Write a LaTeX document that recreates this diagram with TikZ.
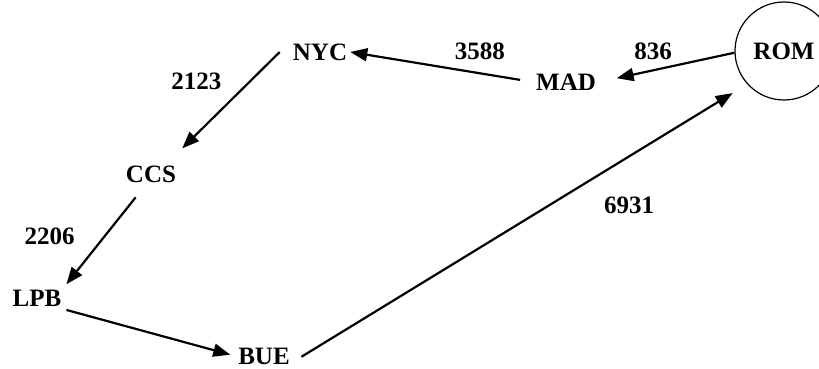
\documentclass[tikz,border=0pt]{standalone}
\usepackage{fontspec}
\setmainfont{Liberation Serif}
\usetikzlibrary{arrows.meta}
\tikzset{
  city/.style={inner sep=3pt, font=\fontsize{25}{30}\selectfont\bfseries},
  hub/.style={draw, circle, line width=1.2pt, minimum size=98pt, inner sep=0pt, font=\fontsize{25}{30}\selectfont\bfseries},
  dist/.style={inner sep=3pt, font=\fontsize{25}{30}\selectfont\bfseries},
  arrow/.style={-{Triangle[length=17pt, width=13pt]}, line width=2.2pt}
}
\begin{document}
\begin{tikzpicture}[x=1pt, y=-1pt]
  \useasboundingbox (0,0) rectangle (819,369);
  \node[hub] (rom) at (784,51) {ROM};
  \node[city] (mad) at (566,82) {MAD};
  \node[city] (nyc) at (320,52) {NYC};
  \node[city] (ccs) at (151,174) {CCS};
  \node[city] (lpb) at (37,298) {LPB};
  \node[city] (bue) at (264,356) {BUE};

  \draw[arrow, shorten >=18pt] (rom.182) -- node[dist, pos=0.6, above=6pt] {836} (mad.east);
  \draw[arrow, shorten <=13pt] (mad.west) -- node[dist, pos=0.29, above=9pt] {3588} (nyc.east);
  \draw[arrow, shorten >=20pt] ([xshift=-10pt]nyc.west) -- node[dist, pos=0.27, left=24pt] {2123} ([xshift=17pt]ccs.north);
  \draw[arrow, shorten <=15pt, shorten >=3pt] ([xshift=-6pt]ccs.south) -- node[dist, midway, left=26pt] {2206} (lpb.north east);
  \draw[arrow, shorten <=2pt, shorten >=5pt] (lpb.south east) -- (bue.west);
  \draw[arrow, shorten <=10pt, shorten >=17pt] ([yshift=-6pt]bue.east) -- node[dist, pos=0.74, below=36pt] {6931} (rom.222);
\end{tikzpicture}
\end{document}
